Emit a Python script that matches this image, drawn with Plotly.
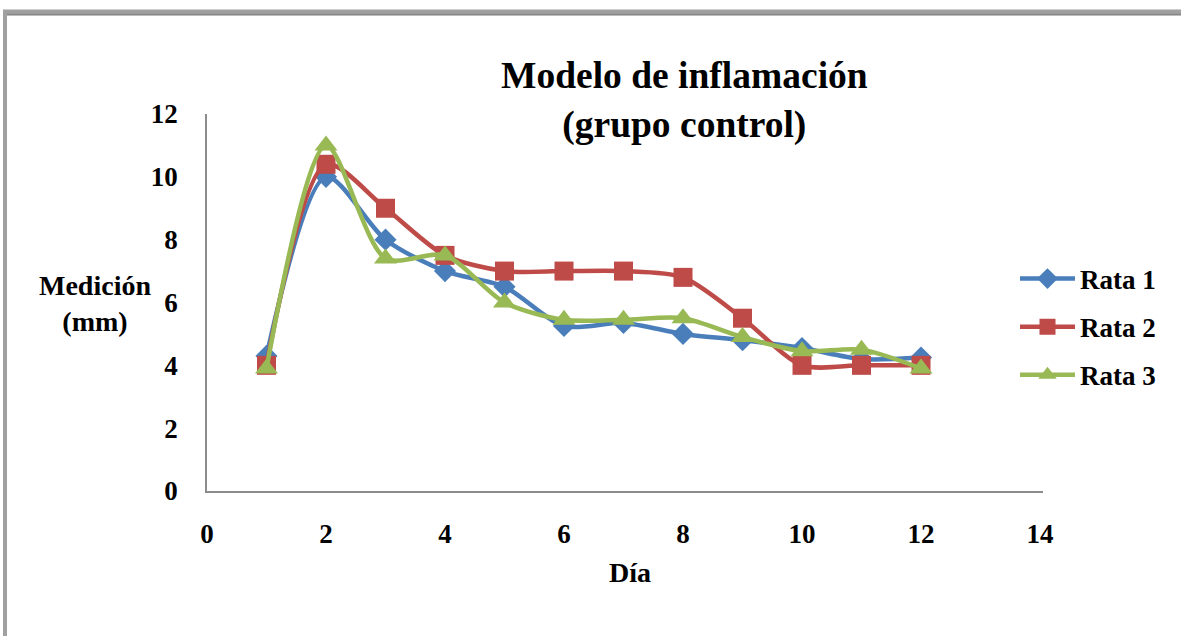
import plotly.graph_objects as go

dias = [1, 2, 3, 4, 5, 6, 7, 8, 9, 10, 11, 12]
rata1 = [4.3, 10.0, 8.0, 7.0, 6.5, 5.25, 5.35, 5.0, 4.8, 4.55, 4.2, 4.25]
rata2 = [4.0, 10.4, 9.0, 7.5, 7.0, 7.0, 7.0, 6.8, 5.5, 4.0, 4.0, 4.0]
rata3 = [3.9, 11.0, 7.4, 7.5, 6.0, 5.45, 5.45, 5.5, 4.9, 4.45, 4.5, 3.9]
nombres = ["Rata 1", "Rata 2", "Rata 3"]
colores = ["#4A7EBB", "#BE4B48", "#98B954"]
simbolos = ["diamond", "square", "triangle-up"]
tamanos = [17, 19, 20]

FONT = "Liberation Serif"
fig = go.Figure()
for i, serie in enumerate([rata1, rata2, rata3]):
    fig.add_trace(go.Scatter(
        x=dias, y=serie, name=nombres[i], mode="lines+markers",
        line=dict(color=colores[i], width=4.5, shape="spline", smoothing=0.8),
        marker=dict(symbol=simbolos[i], size=tamanos[i], color=colores[i]),
        legendgroup=nombres[i],
    ))

W, H = 1181, 636
L, R, T, B = 207, 1043, 114, 491
fig.update_layout(
    width=W, height=H,
    margin=dict(l=L, r=W - R, t=T, b=H - B),
    paper_bgcolor="white", plot_bgcolor="white",
    font=dict(family=FONT, size=27, color="black"),
    showlegend=True,
    legend=dict(x=(1015 - L) / (R - L), xanchor="left", y=(B - 327) / (B - T), yanchor="middle",
                font=dict(family=FONT, size=27, color="black", weight="bold"),
                tracegroupgap=10, itemwidth=55, bgcolor="rgba(0,0,0,0)"),
    xaxis=dict(range=[0, 14.05], tickvals=[0, 2, 4, 6, 8, 10, 12, 14],
               showgrid=False, zeroline=False, showline=True,
               linecolor="#8c8c8c", linewidth=1.5, ticks="",
               ticklabelstandoff=18,
               tickfont=dict(family=FONT, size=27, weight="bold")),
    yaxis=dict(range=[0, 12], tickvals=[0, 2, 4, 6, 8, 10, 12],
               showgrid=False, zeroline=False, showline=True,
               linecolor="#8c8c8c", linewidth=1.5, ticks="",
               ticklabelstandoff=22,
               tickfont=dict(family=FONT, size=27, weight="bold")),
)

def px(x):
    return (x - L) / (R - L)

def py(y):
    return (B - y) / (B - T)

fig.add_annotation(text="<b>Modelo de inflamación<br>(grupo control)</b>",
                   x=px(684), y=py(101), xref="paper", yref="paper",
                   xanchor="center", yanchor="middle",
                   showarrow=False, font=dict(family=FONT, size=37.5, color="black"),
                   align="center")
fig.add_annotation(text="<b>Medición<br>(mm)</b>", x=px(95), y=py(303),
                   xref="paper", yref="paper", xanchor="center", yanchor="middle",
                   showarrow=False,
                   font=dict(family=FONT, size=28, color="black"), align="center")
fig.add_annotation(text="<b>Día</b>", x=px(630), y=py(572),
                   xref="paper", yref="paper", xanchor="center", yanchor="middle",
                   showarrow=False,
                   font=dict(family=FONT, size=28, color="black"))

# outer frame
fig.add_shape(type="line", xref="paper", yref="paper",
              x0=px(5), x1=px(5), y0=py(10), y1=py(640),
              line=dict(color="#a0a0a0", width=4))
fig.add_shape(type="line", xref="paper", yref="paper",
              x0=px(3), x1=px(1185), y0=py(12.5), y1=py(12.5),
              line=dict(color="#a0a0a0", width=6))
fig.add_shape(type="line", xref="paper", yref="paper",
              x0=px(7), x1=px(1185), y0=py(14.5), y1=py(14.5),
              line=dict(color="#888888", width=1.5))

fig.write_html("out.html", config={"displayModeBar": False},
               post_script="document.body.style.margin='0';document.body.style.padding='0';document.body.style.overflow='hidden';")
